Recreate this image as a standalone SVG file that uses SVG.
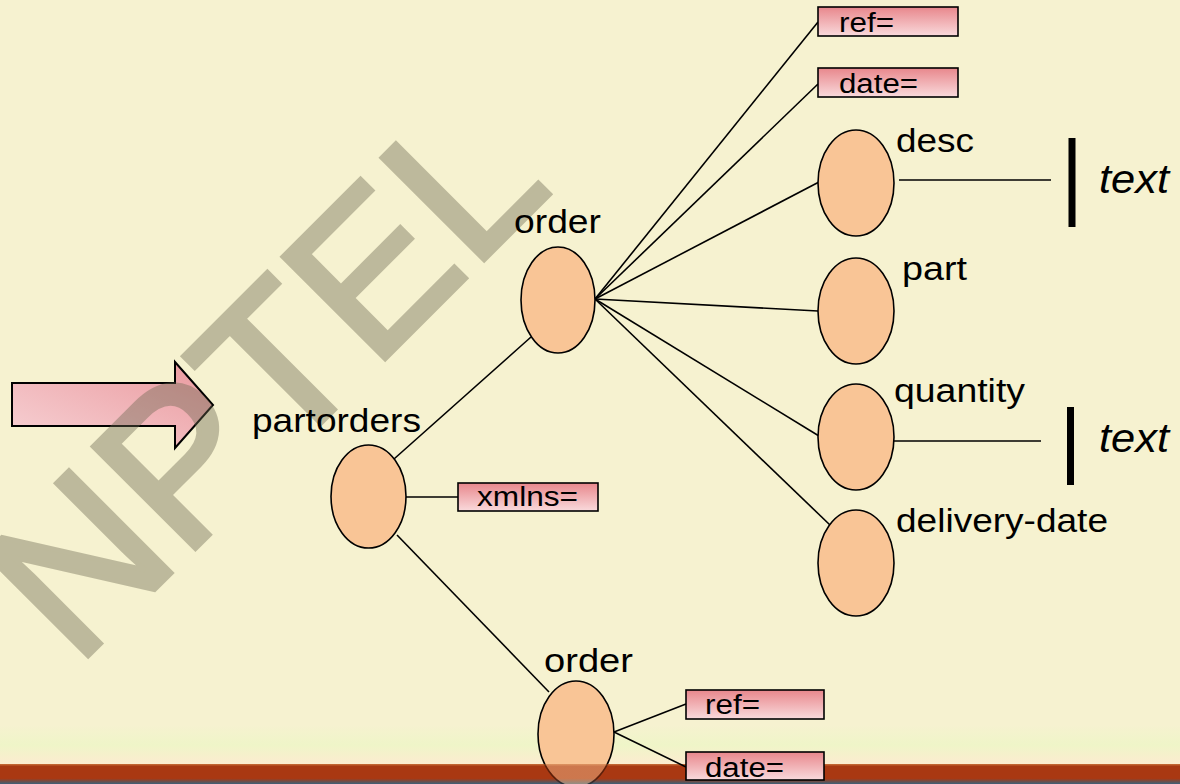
<svg xmlns="http://www.w3.org/2000/svg" width="1180" height="784" viewBox="0 0 1180 784">
<defs>
<linearGradient id="boxg" x1="0" y1="0" x2="0" y2="1">
<stop offset="0" stop-color="#e8878c"/>
<stop offset="1" stop-color="#f9dadc"/>
</linearGradient>
<linearGradient id="arrowg" x1="0" y1="1" x2="1" y2="0">
<stop offset="0" stop-color="#f7d3d6"/>
<stop offset="1" stop-color="#ea989d"/>
</linearGradient>
<linearGradient id="bottomg" x1="0" y1="0" x2="0" y2="1">
<stop offset="0" stop-color="#f6f2d0"/>
<stop offset="0.5" stop-color="#eff5c8"/>
<stop offset="1" stop-color="#fdebd0"/>
</linearGradient>
<linearGradient id="bandg" x1="0" y1="0" x2="0" y2="1">
<stop offset="0" stop-color="#c8703a"/>
<stop offset="0.12" stop-color="#a93812"/>
<stop offset="0.72" stop-color="#a93812"/>
<stop offset="1" stop-color="#3b6078"/>
</linearGradient>
<style>
.node{fill:#f9c596;stroke:#000;stroke-width:1.6}
.box{fill:url(#boxg);stroke:#000;stroke-width:1.6}
.lbl{font-family:"Liberation Sans",Arial,sans-serif;font-size:33px;fill:#000}
.blbl{font-family:"Liberation Sans",Arial,sans-serif;font-size:27px;fill:#000}
.itl{font-family:"Liberation Sans",Arial,sans-serif;font-size:40px;font-style:italic;fill:#000}
.wire{stroke:#000;stroke-width:1.6;fill:none}
.bar{stroke:#000;stroke-width:7;fill:none}
</style>
</defs>
<rect x="0" y="0" width="1180" height="784" fill="#f6f2d0"/>
<rect x="0" y="725" width="1180" height="40" fill="url(#bottomg)"/>
<rect x="0" y="764" width="1180" height="20" fill="url(#bandg)"/>

<g id="big-arrow">
<path d="M12,383 L175,383 L175,362 L213,405 L175,448 L175,426 L12,426 Z" fill="url(#arrowg)" stroke="#000" stroke-width="2"/>
</g>

<g id="watermark" opacity="0.4">
<text x="76" y="668" transform="rotate(-45 76 668)" font-family="Liberation Sans, Arial, sans-serif" font-size="210" fill="#6a664f" stroke="#6a664f" stroke-width="5" stroke-linejoin="miter" textLength="677" lengthAdjust="spacingAndGlyphs">NPTEL</text>
</g>

<g id="connectors">
<line class="wire" x1="394" y1="459" x2="531" y2="337"/>
<line class="wire" x1="406" y1="497" x2="458" y2="497"/>
<line class="wire" x1="397" y1="535" x2="549" y2="692"/>
<line class="wire" x1="614" y1="732" x2="686" y2="704"/>
<line class="wire" x1="614" y1="732" x2="686" y2="767"/>
<line class="wire" x1="595" y1="299" x2="818" y2="22"/>
<line class="wire" x1="595" y1="299" x2="818" y2="84"/>
<line class="wire" x1="595" y1="299" x2="819" y2="182"/>
<line class="wire" x1="595" y1="299" x2="818" y2="311"/>
<line class="wire" x1="595" y1="299" x2="819" y2="436"/>
<line class="wire" x1="595" y1="299" x2="830" y2="525"/>
<line class="wire" x1="899" y1="180" x2="1051" y2="180"/>
<line class="wire" x1="894" y1="441" x2="1041" y2="441"/>
</g>

<g id="node-partorders">
<ellipse class="node" cx="368.5" cy="496.5" rx="37.5" ry="51.5"/>
<text class="lbl" x="252" y="432" textLength="169" lengthAdjust="spacingAndGlyphs">partorders</text>
</g>
<g id="node-xmlns">
<rect class="box" x="458" y="483" width="140" height="28"/>
<text class="blbl" x="477" y="506" textLength="101" lengthAdjust="spacingAndGlyphs">xmlns=</text>
</g>
<g id="node-order1">
<ellipse class="node" cx="558" cy="300" rx="37" ry="53"/>
<text class="lbl" x="514" y="233" textLength="87" lengthAdjust="spacingAndGlyphs">order</text>
</g>
<g id="node-ref1">
<rect class="box" x="818" y="7" width="140" height="29"/>
<text class="blbl" x="839" y="32" textLength="55" lengthAdjust="spacingAndGlyphs">ref=</text>
</g>
<g id="node-date1">
<rect class="box" x="818" y="68" width="140" height="29"/>
<text class="blbl" x="839" y="93" textLength="79" lengthAdjust="spacingAndGlyphs">date=</text>
</g>
<g id="node-desc">
<ellipse class="node" cx="856" cy="183" rx="38" ry="53"/>
<text class="lbl" x="896" y="152" textLength="78" lengthAdjust="spacingAndGlyphs">desc</text>
</g>
<g id="node-part">
<ellipse class="node" cx="856" cy="311" rx="38" ry="53"/>
<text class="lbl" x="902" y="280" textLength="65" lengthAdjust="spacingAndGlyphs">part</text>
</g>
<g id="node-quantity">
<ellipse class="node" cx="856" cy="437" rx="38" ry="53"/>
<text class="lbl" x="894" y="402" textLength="131" lengthAdjust="spacingAndGlyphs">quantity</text>
</g>
<g id="node-delivery-date">
<ellipse class="node" cx="856" cy="563" rx="38" ry="53"/>
<text class="lbl" x="896" y="532" textLength="212" lengthAdjust="spacingAndGlyphs">delivery-date</text>
</g>
<g id="node-text1">
<line class="bar" x1="1072" y1="138" x2="1072" y2="227"/>
<text class="itl" x="1099" y="193" textLength="70" lengthAdjust="spacingAndGlyphs">text</text>
</g>
<g id="node-text2">
<line class="bar" x1="1070.5" y1="407" x2="1070.5" y2="485"/>
<text class="itl" x="1099" y="452" textLength="70" lengthAdjust="spacingAndGlyphs">text</text>
</g>
<g id="node-order2">
<ellipse class="node" cx="576" cy="734" rx="38" ry="53"/>
<text class="lbl" x="544" y="672" textLength="89" lengthAdjust="spacingAndGlyphs">order</text>
</g>
<rect x="530" y="764" width="100" height="20" fill="url(#bandg)" opacity="0.55"/>
<g id="node-ref2">
<rect class="box" x="686" y="690" width="138" height="29"/>
<text class="blbl" x="705" y="714" textLength="55" lengthAdjust="spacingAndGlyphs">ref=</text>
</g>
<g id="node-date2">
<rect class="box" x="686" y="752" width="138" height="28"/>
<text class="blbl" x="705" y="777" textLength="79" lengthAdjust="spacingAndGlyphs">date=</text>
</g>
</svg>
